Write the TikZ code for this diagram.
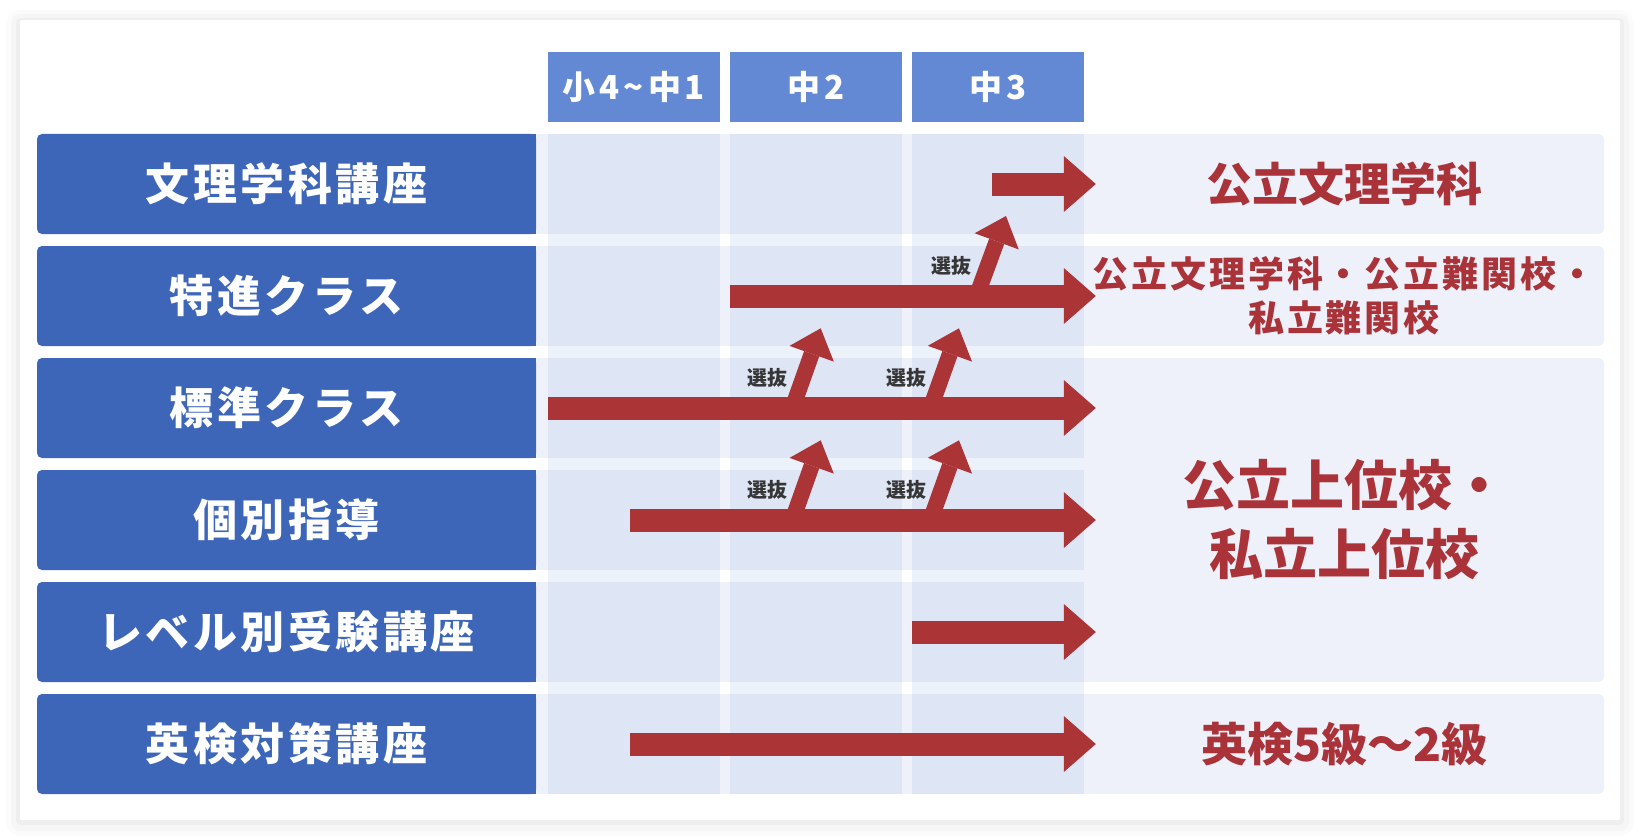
\documentclass[tikz,border=0pt]{standalone}
\usepackage{fontspec}
\setmainfont{Noto Sans CJK JP}
\newfontfamily\widefont{Noto Sans CJK JP}[LetterSpace=8]
\newfontfamily\widerfont{Noto Sans CJK JP}[LetterSpace=12]
\usepackage{tikz}
\usetikzlibrary{arrows.meta, positioning}
\definecolor{labelblue}{HTML}{3D66B9}
\definecolor{headblue}{HTML}{6389D4}
\definecolor{routered}{HTML}{AB3437}
\definecolor{goalred}{HTML}{A93338}
\definecolor{bandgrey}{HTML}{EEF1FA}
\definecolor{picktext}{HTML}{363636}
\tikzstyle{course} = [rectangle, rounded corners=5pt, minimum width=499pt, minimum height=100pt, inner sep=0pt, fill=labelblue, text=white, font=\widefont\fontsize{44}{50}\selectfont\bfseries]
\tikzstyle{grade} = [rectangle, minimum width=172pt, minimum height=70pt, inner sep=0pt, fill=headblue, text=white, font=\widerfont\fontsize{33}{38}\selectfont\bfseries]
\tikzstyle{goal} = [rectangle, rounded corners=6pt, minimum width=520pt, minimum height=100pt, inner sep=0pt, fill=bandgrey, text=goalred, align=center, font=\fontsize{46}{52}\selectfont\bfseries]
\tikzstyle{picklabel} = [inner sep=0pt, text=picktext, font=\fontsize{20}{24}\selectfont\bfseries]
\tikzstyle{route} = [routered, line width=23pt, -{Triangle[length=32pt, width=56pt, line width=0pt]}]
\tikzstyle{promote} = [routered, line width=16pt, -{Triangle[length=27pt, width=47pt, line width=0pt]}]

\begin{document}
\begin{tikzpicture}[x=1pt, y=-1pt, node distance=112pt]
    \useasboundingbox (0,0) rectangle (1640,840);
    \fill[white] (0,0) rectangle (1640,840);
    \fill[black, opacity=0.015, rounded corners=14pt] (6,10) rectangle (1634,836);
    \fill[black, opacity=0.02, rounded corners=9pt] (11,14) rectangle (1629,831);
    \fill[black, opacity=0.03, rounded corners=5pt] (16,18) rectangle (1624,825);
    \fill[white, rounded corners=2pt] (20,20) rectangle (1620,820);

    \node (goal1) [goal] at (1344,184) {公立文理学科};
    \node (goal2) [goal, below of=goal1, font=\widefont\fontsize{36}{43.5}\selectfont\bfseries] {公立文理学科・公立難関校・\\私立難関校};
    \node (goal3) [goal, node distance=224pt, below of=goal2, minimum height=324pt, font=\fontsize{54}{69}\selectfont\bfseries] {公立上位校・\\私立上位校};
    \node (goal6) [goal, node distance=224pt, below of=goal3] {英検5級～2級};

    \fill[bandgrey] (520,134) rectangle (1090,234);
    \fill[bandgrey] (520,246) rectangle (1090,346);
    \fill[bandgrey] (520,358) rectangle (1090,458);
    \fill[bandgrey] (520,470) rectangle (1090,570);
    \fill[bandgrey] (520,582) rectangle (1090,682);
    \fill[bandgrey] (520,694) rectangle (1090,794);

    \fill[labelblue] (486,134) rectangle (536,234);
    \fill[labelblue] (486,246) rectangle (536,346);
    \fill[labelblue] (486,358) rectangle (536,458);
    \fill[labelblue] (486,470) rectangle (536,570);
    \fill[labelblue] (486,582) rectangle (536,682);
    \fill[labelblue] (486,694) rectangle (536,794);

    \node (bunri) [course] at (286.5,184) {文理学科講座};
    \node (tokushin) [course, below of=bunri] {特進クラス};
    \node (hyojun) [course, below of=tokushin] {標準クラス};
    \node (kobetsu) [course, below of=hyojun] {個別指導};
    \node (level) [course, below of=kobetsu] {レベル別受験講座};
    \node (eiken) [course, below of=level] {英検対策講座};

    \fill[headblue, opacity=0.11] (548,134) rectangle (720,794);
    \fill[headblue, opacity=0.11] (730,134) rectangle (902,794);
    \fill[headblue, opacity=0.11] (912,134) rectangle (1084,794);

    \node (grade1) [grade] at (634,87) {小4\textasciitilde 中1};
    \node (grade2) [grade, node distance=182pt, right of=grade1] {中2};
    \node (grade3) [grade, node distance=182pt, right of=grade2] {中3};

    \coordinate (start1) at (992,184);
    \coordinate (start2) at (730,296);
    \coordinate (start3) at (548,408);
    \coordinate (start4) at (630,520);
    \coordinate (start5) at (912,632);
    \coordinate (start6) at (630,744);

    \draw [route] (start1) -- ([xshift=12pt]goal1.west);
    \draw [route] (start2) -- ([xshift=12pt]goal2.west);
    \draw [route] (start3) -- ([xshift=12pt, yshift=112pt]goal3.west);
    \draw [route] (start4) -- ([xshift=12pt]goal3.west);
    \draw [route] (start5) -- ([xshift=12pt, yshift=-112pt]goal3.west);
    \draw [route] (start6) -- ([xshift=12pt]goal6.west);

    \coordinate (from1) at (976.6,296);
    \coordinate (to1) at (1006,216);
    \coordinate (from2) at (792.4,408);
    \coordinate (to2) at (820.7,328.3);
    \coordinate (from3) at (930.5,408);
    \coordinate (to3) at (959,328.3);
    \coordinate (from4) at (792.4,520);
    \coordinate (to4) at (820.7,440.3);
    \coordinate (from5) at (930.5,520);
    \coordinate (to5) at (959,440.3);

    \draw [promote] (from1) -- (to1);
    \draw [promote] (from2) -- (to2);
    \draw [promote] (from3) -- (to3);
    \draw [promote] (from4) -- (to4);
    \draw [promote] (from5) -- (to5);

    \node (pick1) [picklabel] at (951.3,266.3) {選抜};
    \node (pick2) [picklabel] at (767,378.3) {選抜};
    \node (pick3) [picklabel] at (906.5,378.3) {選抜};
    \node (pick4) [picklabel] at (767,490.3) {選抜};
    \node (pick5) [picklabel] at (906.5,490.3) {選抜};
\end{tikzpicture}
\end{document}
